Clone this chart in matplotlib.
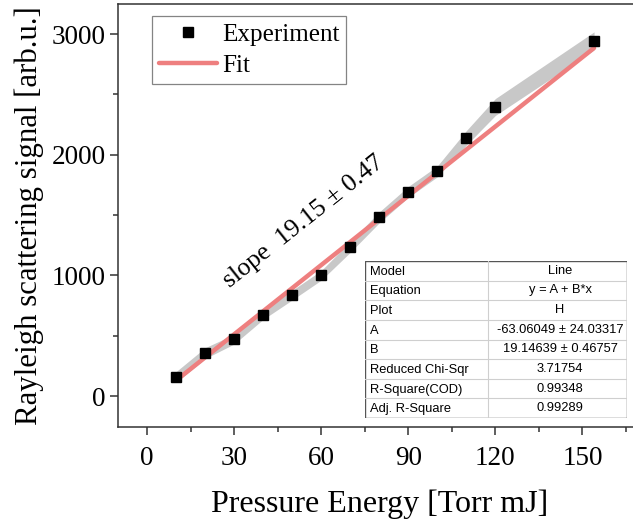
import matplotlib
matplotlib.use("Agg")
import matplotlib.pyplot as plt
import numpy as np
from matplotlib.ticker import MultipleLocator

# Data
x_exp = [10, 20, 30, 40, 50, 60, 70, 80, 90, 100, 110, 120, 154]
y_exp = [157, 355, 471, 675, 836, 1000, 1236, 1481, 1692, 1862, 2140, 2396, 2944]
y_err = [45, 45, 40, 40, 40, 40, 45, 45, 45, 45, 60, 70, 75]
fit_A = -63.06049
fit_B = 19.14639
x_ticks = [0, 30, 60, 90, 120, 150]
y_ticks = [0, 1000, 2000, 3000]

table_rows = [
    ["Model", "Line"],
    ["Equation", "y = A + B*x"],
    ["Plot", "H"],
    ["A", "-63.06049 \u00b1 24.03317"],
    ["B", "19.14639 \u00b1 0.46757"],
    ["Reduced Chi-Sqr", "3.71754"],
    ["R-Square(COD)", "0.99348"],
    ["Adj. R-Square", "0.99289"],
]

W, H = 633, 524
fig = plt.figure(figsize=(W / 100, H / 100), dpi=100)
serif = "Liberation Serif"

ax = fig.add_axes([118 / W, 1 - 427 / H, (640.5 - 118) / W, (427 - 4) / H])
ax.set_xlim(-10, 170)
ax.set_ylim(-257, 3250)

xe = np.array(x_exp, dtype=float)
ye = np.array(y_exp, dtype=float)
ee = np.array(y_err, dtype=float)
ax.fill_between(xe, ye - ee, ye + ee, color="#c8c8c8", lw=0, zorder=1)

xf = np.array([x_exp[0], x_exp[-1]], dtype=float)
ax.plot(xf, fit_A + fit_B * xf, color="#ee7f7f", lw=3.2, zorder=2, label="Fit",
        solid_capstyle="round")
ax.plot(xe, ye, ls="none", marker="s", ms=6.5, color="black", zorder=3,
        label="Experiment")

for s in ["left", "bottom", "top"]:
    ax.spines[s].set_linewidth(1.1)
    ax.spines[s].set_color("#333333")
ax.spines["right"].set_visible(False)

ax.set_xticks(x_ticks)
ax.set_yticks(y_ticks)
ax.xaxis.set_minor_locator(MultipleLocator(15))
ax.yaxis.set_minor_locator(MultipleLocator(500))
ax.tick_params(which="major", direction="out", length=6, width=1.1, color="#333333",
               labelsize=19.5, pad=3)
ax.tick_params(which="minor", direction="out", length=3.6, width=1.1, color="#333333")
ax.tick_params(axis="x", which="major", pad=8)
for lab in ax.get_xticklabels() + ax.get_yticklabels():
    lab.set_fontfamily(serif)

ax.set_xlabel("Pressure Energy [Torr mJ]", fontfamily=serif, fontsize=23, labelpad=13)
ax.set_ylabel("Rayleigh scattering signal [arb.u.]", fontfamily=serif, fontsize=22.2,
              labelpad=5)

handles, labels = ax.get_legend_handles_labels()
leg = ax.legend(handles[::-1], labels[::-1], loc="upper left",
                bbox_to_anchor=((152 - 118) / (640.5 - 118), (427 - 16) / 423),
                prop={"family": serif, "size": 18.1}, frameon=True, fancybox=False,
                handlelength=2.3, handletextpad=0.2, borderpad=0.28, labelspacing=0.35,
                borderaxespad=0)
leg.get_frame().set_edgecolor("#666666")
leg.get_frame().set_linewidth(0.9)

ax.text(54.0, 1445, "slope  19.15 \u00b1 0.47", rotation=38.5, fontfamily=serif,
        fontsize=18.6, ha="center", va="center", rotation_mode="anchor")

# Fit results table
tl, tr, tt, tb = 365, 627, 261, 418
tax = fig.add_axes([tl / W, 1 - tb / H, (tr - tl) / W, (tb - tt) / H])
tax.set_xlim(0, 1)
tax.set_ylim(len(table_rows), 0)
tax.axis("off")
tax.add_patch(plt.Rectangle((0, 0), 1, len(table_rows), facecolor="white",
                            edgecolor="#555555", lw=1.0, zorder=1))
xdiv = (488 - tl) / (tr - tl)
tax.plot([xdiv, xdiv], [0, len(table_rows)], color="#cfcfcf", lw=0.8, zorder=2)
for i in range(1, len(table_rows)):
    tax.plot([0, 1], [i, i], color="#cfcfcf", lw=0.8, zorder=2)
for i, (a, b) in enumerate(table_rows):
    tax.text(0.02, i + 0.55, a, fontfamily="Liberation Sans", fontsize=9.3,
             ha="left", va="center", zorder=3)
    tax.text((xdiv + 1) / 2 + 0.01, i + 0.5, b, fontfamily="Liberation Sans", fontsize=9.3,
             ha="center", va="center", zorder=3)

fig.savefig("out.png", dpi=100)
